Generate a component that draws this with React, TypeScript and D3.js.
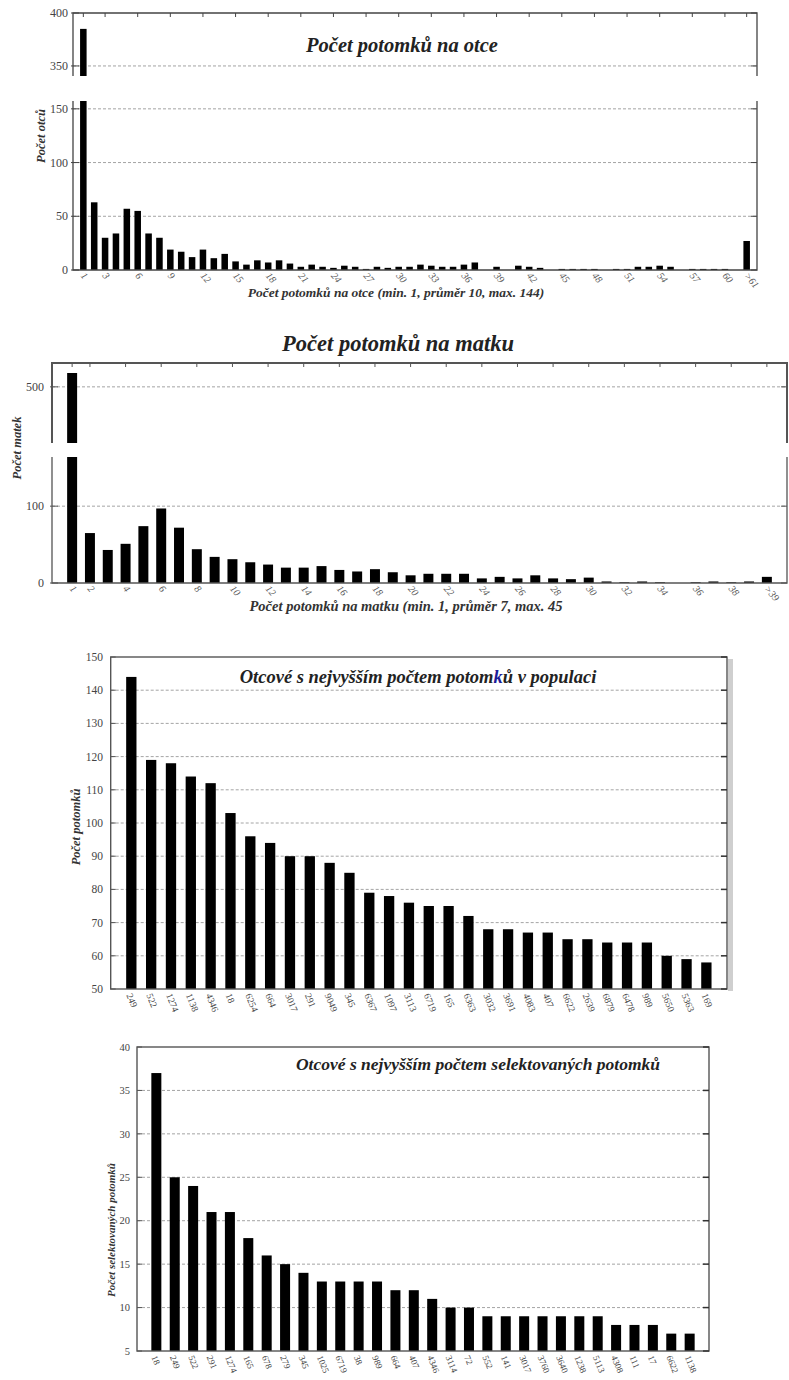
import React from "react";
import * as d3 from "d3";

const FONT = "'Liberation Serif','Times New Roman','DejaVu Serif',serif";

// ---------- Chart 1: Počet potomků na otce ----------
const cats1 = ["1","2","3","4","5","6","7","8","9","10","11","12","13","14","15","16","17","18","19","20",
  "21","22","23","24","25","26","27","28","29","30","31","32","33","34","35","36","37","38","39","40",
  "41","42","43","44","45","46","47","48","49","50","51","52","53","54","55","56","57","58","59","60","61",">61"];
const vals1 = [385,63,30,34,57,55,34,30,19,17,
  12,19,11,15,8,5,9,7,9,6,
  3,5,3,2,4,3,1,3,2,3,
  3,5,4,3,3,5,7,0,3,0,
  4,3,2,0,1,1,1,1,0,1,
  1,3,3,4,3,0,1,1,1,1,
  0,27];
const ticks1 = ["1","3","6","9","12","15","18","21","24","27","30","33","36","39","42","45","48","51","54","57","60",">61"];
const yHi1 = [350, 400];
const yLo1 = [0, 50, 100, 150];

// ---------- Chart 2: Počet potomků na matku ----------
const cats2 = ["1","2","3","4","5","6","7","8","9","10","11","12","13","14","15","16","17","18","19","20",
  "21","22","23","24","25","26","27","28","29","30","31","32","33","34","35","36","37","38","39",">39"];
const vals2 = [518,65,43,51,74,97,72,44,34,31,
  27,24,20,20,22,17,15,18,14,10,
  12,12,12,6,8,6,10,6,5,7,
  2,1,2,1,0,1,2,1,2,8];
const ticks2 = ["1","2","4","6","8","10","12","14","16","18","20","22","24","26","28","30","32","34","36","38",">39"];
const yHi2 = [500];
const yLo2 = [0, 100];

// ---------- Chart 3: Otcové s nejvyšším počtem potomků v populaci ----------
const cats3 = ["249","522","1274","1138","4346","18","6254","664","3017","291","9049","345","6367","1097","3113",
  "6719","165","6363","3032","3691","4083","407","6622","2639","6879","6478","989","5650","5363","169"];
const vals3 = [144,119,118,114,112,103,96,94,90,90,88,85,79,78,76,75,75,72,68,68,67,67,65,65,64,64,64,60,59,58];
const yTicks3 = [50,60,70,80,90,100,110,120,130,140,150];

// ---------- Chart 4: Otcové s nejvyšším počtem selektovaných potomků ----------
const cats4 = ["18","249","522","291","1274","165","678","279","345","1025","6719","38","989","664","407",
  "4346","3114","72","552","141","3017","3760","3640","1238","5113","4308","111","17","6622","1138"];
const vals4 = [37,25,24,21,21,18,16,15,14,13,13,13,13,12,12,11,10,10,9,9,9,9,9,9,9,8,8,8,7,7];
const yTicks4 = [5,10,15,20,25,30,35,40];

const GRID = "#9a9a9a";

function Broken(p: any) {
  const x = d3.scaleBand<string>().domain(p.cats).range([p.left, p.right]).paddingInner(p.pi).paddingOuter(p.po);
  const yLo = d3.scaleLinear().domain(p.loDomain).range([p.loBot, p.loTop]);
  const yHi = d3.scaleLinear().domain(p.hiDomain).range([p.hiBot, p.hiTop]);
  const bw = x.bandwidth();
  const cx = (c: string) => (x(c) as number) + bw / 2;
  const ax = p.axisColor;
  return (
    <g>
      {p.hiTicks.filter((t: number) => t > p.hiDomain[0] && t < p.hiDomain[1]).map((t: number) => (
        <line key={"hg" + t} x1={p.left} x2={p.right} y1={yHi(t)} y2={yHi(t)} stroke={GRID} strokeWidth={0.9} strokeDasharray="3,2" />
      ))}
      {p.loTicks.filter((t: number) => t > p.loDomain[0]).map((t: number) => (
        <line key={"lg" + t} x1={p.left} x2={p.right} y1={yLo(t)} y2={yLo(t)} stroke={GRID} strokeWidth={0.9} strokeDasharray="3,2" />
      ))}
      {p.cats.map((c: string, i: number) => {
        const v = p.vals[i];
        const x0 = x(c) as number;
        if (v <= p.loDomain[1]) {
          return <rect key={c} x={x0} y={yLo(v)} width={bw} height={p.loBot - yLo(v)} fill="#000" />;
        }
        return (
          <g key={c}>
            <rect x={x0} y={p.loTop} width={bw} height={p.loBot - p.loTop} fill="#000" />
            <rect x={x0} y={yHi(v)} width={bw} height={p.hiBot - yHi(v)} fill="#000" />
          </g>
        );
      })}
      <path d={`M${p.left},${p.hiBot}V${p.hiTop}H${p.right}V${p.hiBot}`} fill="none" stroke={ax} strokeWidth={p.topWidth} />
      <path d={`M${p.left},${p.loTop}V${p.loBot}H${p.right}V${p.loTop}`} fill="none" stroke={ax} strokeWidth={1.3} />
      {p.tickCats.map((c: string) => (
        <line key={"tt" + c} x1={cx(c)} x2={cx(c)} y1={p.hiTop} y2={p.hiTop + 4} stroke={ax} strokeWidth={1} />
      ))}
      {p.hiTicks.map((t: number) => (
        <g key={"ht" + t}>
          <line x1={p.left - 2} x2={p.left + 6} y1={yHi(t)} y2={yHi(t)} stroke={ax} strokeWidth={1} />
          <line x1={p.right - 6} x2={p.right} y1={yHi(t)} y2={yHi(t)} stroke={ax} strokeWidth={1} />
          <text x={p.labelX} y={yHi(t)} dy="0.35em" textAnchor="end" fontSize={p.yFont} fill="#444">{t}</text>
        </g>
      ))}
      {p.loTicks.map((t: number) => (
        <g key={"lt" + t}>
          <line x1={p.left - 2} x2={p.left + 6} y1={yLo(t)} y2={yLo(t)} stroke={ax} strokeWidth={1} />
          <line x1={p.right - 6} x2={p.right} y1={yLo(t)} y2={yLo(t)} stroke={ax} strokeWidth={1} />
          <text x={p.labelX} y={yLo(t)} dy="0.35em" textAnchor="end" fontSize={p.yFont} fill="#444">{t}</text>
        </g>
      ))}
      {p.tickCats.map((c: string) => (
        <text key={"xl" + c} transform={`translate(${cx(c) - 3},${p.loBot + 6}) rotate(50)`} fontSize={p.xFont} fill="#555" fontStyle="italic">{c}</text>
      ))}
    </g>
  );
}

function Simple(p: any) {
  const x = d3.scaleBand<string>().domain(p.cats).range([p.left, p.right]).paddingInner(p.pi).paddingOuter(p.po);
  const y = d3.scaleLinear().domain(p.domain).range([p.bottom, p.top]);
  const bw = x.bandwidth();
  const ax = "#555";
  return (
    <g>
      {p.shadow && <rect x={p.right + 1} y={p.top + 2} width={5} height={p.bottom - p.top} fill="#cfcfcf" />}
      {p.ticks.filter((t: number) => t > p.domain[0] && t < p.domain[1]).map((t: number) => (
        <line key={"g" + t} x1={p.left} x2={p.right} y1={y(t)} y2={y(t)} stroke={GRID} strokeWidth={0.9} strokeDasharray="3,2" />
      ))}
      {p.cats.map((c: string, i: number) => (
        <rect key={c + i} x={x(c) as number} y={y(p.vals[i])} width={bw} height={p.bottom - y(p.vals[i])} fill="#000" />
      ))}
      <rect x={p.left} y={p.top} width={p.right - p.left} height={p.bottom - p.top} fill="none" stroke={ax} strokeWidth={1.4} />
      {p.ticks.map((t: number) => (
        <g key={"t" + t}>
          <line x1={p.left} x2={p.left + 5} y1={y(t)} y2={y(t)} stroke={ax} strokeWidth={1} />
          <line x1={p.right - 6} x2={p.right} y1={y(t)} y2={y(t)} stroke="#333" strokeWidth={1.5} />
          <text x={p.labelX} y={y(t)} dy="0.35em" textAnchor="end" fontSize={p.yFont} fill="#444">{t}</text>
        </g>
      ))}
      {p.cats.map((c: string, i: number) => (
        <text key={"xl" + c + i} transform={`translate(${(x(c) as number) + bw / 2 - 5},${p.bottom + 6}) rotate(68)`} fontSize={p.xFont} fill="#444">{c}</text>
      ))}
    </g>
  );
}

export default function App() {
  return (
    <svg width={789} height={1380} style={{ position: "absolute", left: 0, top: 0, background: "#fff" }} fontFamily={FONT}>
      <rect x={0} y={0} width={789} height={1380} fill="#fff" />

      {/* Chart 1 */}
      <Broken cats={cats1} vals={vals1} tickCats={ticks1}
        left={73} right={757} pi={0.4} po={0.65}
        hiTop={13} hiBot={76} hiDomain={[340.5, 400]}
        loTop={101} loBot={270} loDomain={[0, 157.3]}
        hiTicks={yHi1} loTicks={yLo1} labelX={68} yFont={12} xFont={10}
        axisColor="#444" topWidth={1.3} />
      <text x={402} y={52} textAnchor="middle" fontSize={20.5} fontWeight="bold" fontStyle="italic" fill="#222">Počet potomků na otce</text>
      <text transform="translate(45,136) rotate(-90)" textAnchor="middle" fontSize={12.5} fontWeight="bold" fontStyle="italic" fill="#333">Počet otců</text>
      <text x={396} y={297} textAnchor="middle" fontSize={13.5} fontWeight="bold" fontStyle="italic" fill="#333">Počet potomků na otce (min. 1, průměr 10, max. 144)</text>

      {/* Chart 2 */}
      <Broken cats={cats2} vals={vals2} tickCats={ticks2}
        left={52} right={787} pi={0.44} po={0.85}
        hiTop={363} hiBot={443} hiDomain={[427, 531]}
        loTop={457} loBot={583} loDomain={[0, 164]}
        hiTicks={yHi2} loTicks={yLo2} labelX={44} yFont={12} xFont={10}
        axisColor="#555" topWidth={2} />
      <text x={398} y={351} textAnchor="middle" fontSize={22.5} fontWeight="bold" fontStyle="italic" fill="#222">Počet potomků na matku</text>
      <text transform="translate(21,448) rotate(-90)" textAnchor="middle" fontSize={12.5} fontWeight="bold" fontStyle="italic" fill="#333">Počet matek</text>
      <text x={406} y={611} textAnchor="middle" fontSize={14.5} fontWeight="bold" fontStyle="italic" fill="#333">Počet potomků na matku (min. 1, průměr 7, max. 45</text>

      {/* Chart 3 */}
      <Simple cats={cats3} vals={vals3} ticks={yTicks3} domain={[50, 150]}
        left={110.7} right={727} top={657} bottom={989} pi={0.48} po={0.78}
        labelX={103} yFont={11.5} xFont={9.5} shadow={true} />
      <text x={418} y={683} textAnchor="middle" fontSize={18.5} fontWeight="bold" fontStyle="italic" fill="#222">
        Otcové s nejvyšším počtem potom<tspan fill="#1c1c99">k</tspan>ů v populaci
      </text>
      <text transform="translate(80,827) rotate(-90)" textAnchor="middle" fontSize={12.5} fontWeight="bold" fontStyle="italic" fill="#333">Počet potomků</text>

      {/* Chart 4 */}
      <Simple cats={cats4} vals={vals4} ticks={yTicks4} domain={[5, 40]}
        left={137} right={709} top={1047} bottom={1351} pi={0.456} po={0.78}
        labelX={130} yFont={10.5} xFont={9} shadow={false} />
      <text x={478} y={1070} textAnchor="middle" fontSize={17.5} fontWeight="bold" fontStyle="italic" fill="#222">Otcové s nejvyšším počtem selektovaných potomků</text>
      <text transform="translate(115,1230) rotate(-90)" textAnchor="middle" fontSize={11} fontWeight="bold" fontStyle="italic" fill="#333">Počet selektovaných potomků</text>
    </svg>
  );
}
